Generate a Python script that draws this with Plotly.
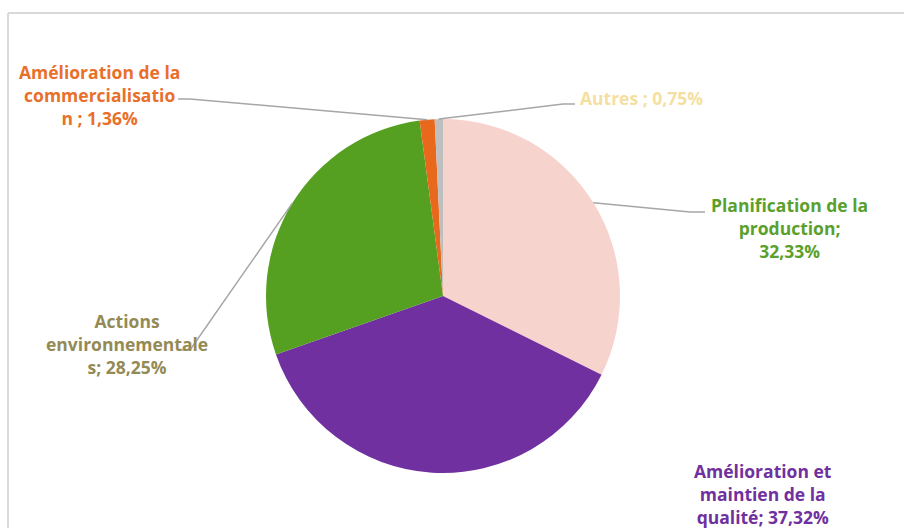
import math
import plotly.graph_objects as go

# Répartition des actions (en %)
categories = [
    "Planification de la production",
    "Amélioration et maintien de la qualité",
    "Actions environnementales",
    "Amélioration de la commercialisation",
    "Autres",
]
values = [32.33, 37.32, 28.25, 1.36, 0.75]
label_texts = [
    "Planification de la<br>production;<br>32,33%",
    "Amélioration et<br>maintien de la<br>qualité; 37,32%",
    "Actions<br>environnementale<br>s; 28,25%",
    "Amélioration de la<br>commercialisatio<br>n ; 1,36%",
    "Autres ; 0,75%",
]
slice_colors = ["#f7d3ce", "#7030a0", "#55a021", "#e8681c", "#bfbfbf"]
label_colors = ["#5aa02c", "#7030a0", "#948a54", "#e8702a", "#f5dfa0"]

W, H = 904, 528
CX, CY, R = 443, 296, 177  # pie centre and radius in pixels

fig = go.Figure(go.Pie(
    labels=categories,
    values=values,
    sort=False,
    direction="clockwise",
    rotation=0,
    marker=dict(colors=slice_colors, line=dict(width=0)),
    textinfo="none",
    hoverinfo="label+percent",
    showlegend=False,
    domain=dict(x=[(CX - R) / W, (CX + R) / W], y=[1 - (CY + R) / H, 1 - (CY - R) / H]),
))


def px(x, y):
    return x / W, 1 - y / H


# label anchor (pixel) positions and alignment
label_pos = [
    (789, 228, "center"),
    (763, 494, "center"),
    (127, 344, "center"),
    (99, 95, "center"),
    (578, 98, "left"),
]
# leader-line elbows: (elbow point, end point) in pixels, None when no line
leaders = [
    ((690, 212), (705, 212)),
    None,
    ((190, 350), (178, 350)),
    ((190, 99), (178, 99)),
    ((563, 104), (575, 104)),
]

total = sum(values)
cum = 0.0
shapes = []
for i, v in enumerate(values):
    mid = (cum + v / 2) / total * 2 * math.pi
    cum += v
    ex = CX + R * math.sin(mid)
    ey = CY - R * math.cos(mid)
    if leaders[i] is not None:
        (bx, by), (tx, ty) = leaders[i]
        path = "M {:.4f},{:.4f} L {:.4f},{:.4f} L {:.4f},{:.4f}".format(
            *px(ex, ey), *px(bx, by), *px(tx, ty))
        shapes.append(dict(type="path", xref="paper", yref="paper", path=path,
                           line=dict(color="#a6a6a6", width=1.5)))

annotations = []
for i, txt in enumerate(label_texts):
    x, y, align = label_pos[i]
    annotations.append(dict(
        x=px(x, y)[0], y=px(x, y)[1], xref="paper", yref="paper",
        text="<b>" + txt + "</b>", showarrow=False, align=align,
        xanchor=align, yanchor="middle",
        font=dict(family="Open Sans", size=17.5, color=label_colors[i]),
    ))

# thin frame along the top and left edges
shapes.append(dict(type="line", xref="paper", yref="paper",
                   x0=px(8, 13)[0], y0=px(8, 13)[1], x1=1, y1=px(8, 13)[1],
                   line=dict(color="#d9d9d9", width=2)))
shapes.append(dict(type="line", xref="paper", yref="paper",
                   x0=px(8, 13)[0], y0=px(8, 13)[1], x1=px(8, 13)[0], y1=0,
                   line=dict(color="#d9d9d9", width=2)))

fig.update_layout(
    width=W, height=H,
    margin=dict(l=0, r=0, t=0, b=0),
    paper_bgcolor="white",
    plot_bgcolor="white",
    shapes=shapes,
    annotations=annotations,
)

fig.write_html("out.html")
